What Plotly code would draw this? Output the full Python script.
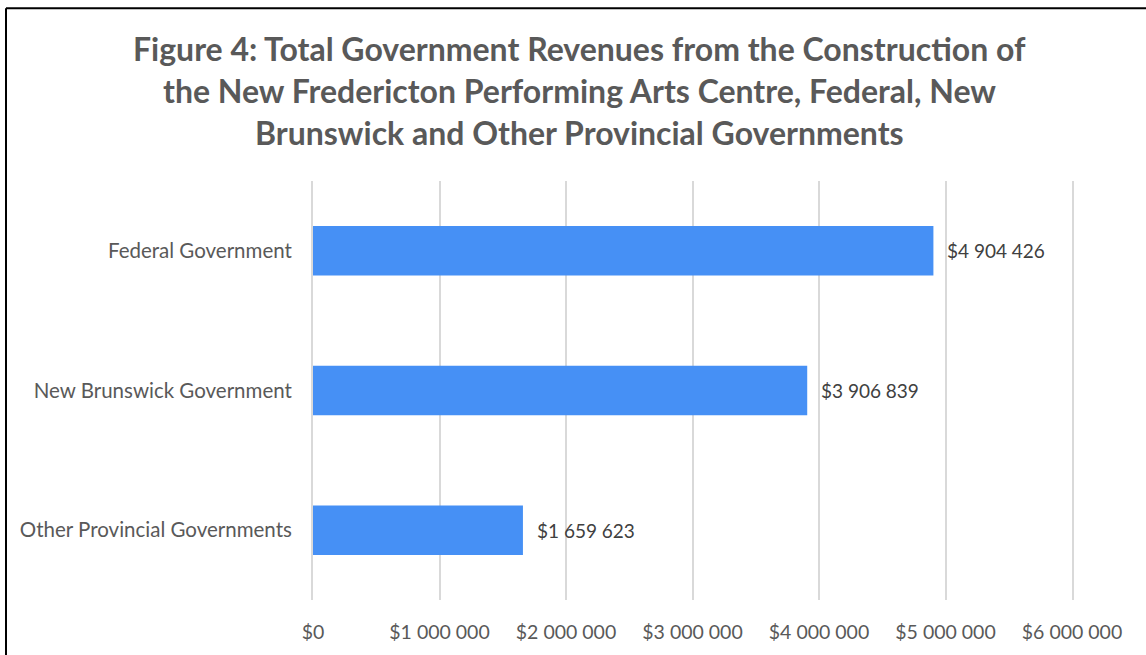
import plotly.graph_objects as go

# données
categories = ["Federal Government", "New Brunswick Government", "Other Provincial Governments"]
revenues = [4904426, 3906839, 1659623]
tick_vals = [0, 1000000, 2000000, 3000000, 4000000, 5000000, 6000000]
title_lines = [
    "Figure 4: Total Government Revenues from the Construction of",
    "the New Fredericton Performing Arts Centre, Federal, New",
    "Brunswick and Other Provincial Governments",
]

W, H = 1146, 655
L, R, T, B = 313, 74, 181, 52

def money(v):
    return "$" + f"{v:,}".replace(",", " ")

fig = go.Figure()
fig.add_trace(go.Bar(
    x=revenues, y=categories, orientation="h",
    marker=dict(color="#4690F5", line=dict(width=0)),
    hoverinfo="skip",
))

# étiquettes de valeurs
for cat, v in zip(categories, revenues):
    fig.add_annotation(x=v, y=cat, xref="x", yref="y", text=money(v), showarrow=False,
                       xanchor="left", xshift=12, font=dict(family="Lato", size=19, color="#404040"))

# titre sur trois lignes
pw, ph = W - L - R, H - T - B
for i, line in enumerate(title_lines):
    ypx = 48 + 42 * i
    fig.add_annotation(x=(579 - L) / pw, y=1 + (T - ypx) / ph, xref="paper", yref="paper",
                       text="<b>" + line + "</b>", showarrow=False, xanchor="center", yanchor="middle",
                       font=dict(family="Lato", size=32, color="#595959"))

# cadre (bord gauche et haut)
bx, by = (6 - L) / pw, 1 + (T - 7) / ph
fig.add_shape(type="line", xref="paper", yref="paper", x0=bx, x1=bx, y0=-0.3, y1=by,
              line=dict(color="black", width=2))
fig.add_shape(type="line", xref="paper", yref="paper", x0=bx, x1=1.3, y0=by, y1=by,
              line=dict(color="black", width=2))

fig.update_layout(
    width=W, height=H, margin=dict(l=L, r=R, t=T, b=B),
    paper_bgcolor="white", plot_bgcolor="white", showlegend=False,
    bargap=0.645,
    xaxis=dict(range=[0, 6000000], tickvals=tick_vals, ticktext=[money(v) for v in tick_vals],
               showgrid=True, gridcolor="#d9d9d9", gridwidth=2, zeroline=False, showline=False,
               ticks="", ticklabelstandoff=18, tickfont=dict(family="Lato", size=19.5, color="#595959")),
    yaxis=dict(autorange="reversed", showgrid=False, zeroline=False, ticks="",
               showline=True, linecolor="#d9d9d9", linewidth=2, mirror=True,
               ticklabelstandoff=15, tickfont=dict(family="Lato", size=20.5, color="#595959")),
)

fig.write_html("out.html", config={"displayModeBar": False},
               post_script="document.body.style.margin='0';")
